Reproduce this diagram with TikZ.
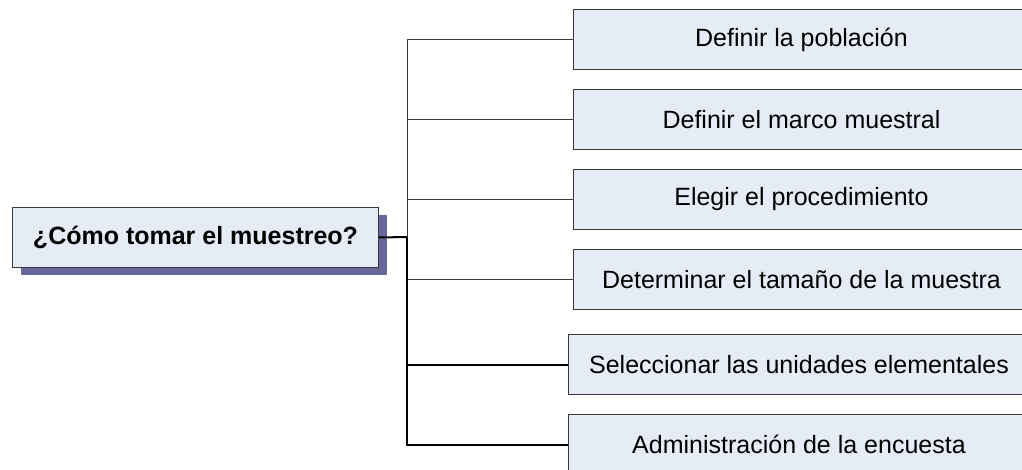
\documentclass[tikz,border=0pt]{standalone}
\usepackage{fontspec}
\setmainfont{Liberation Sans}
\definecolor{boxfill}{HTML}{E6ECF6}
\definecolor{boxline}{HTML}{3A3A3A}
\definecolor{shadowcol}{HTML}{676799}
\begin{document}
\begin{tikzpicture}[x=1pt,y=-1pt,
  stepbox/.style={draw=boxline,fill=boxfill,line width=1pt,minimum height=60pt,
    inner sep=0pt,font=\fontsize{25}{30}\selectfont},
  thin link/.style={draw=boxline,line width=1pt},
  thick link/.style={draw=black,line width=2pt}]
\useasboundingbox (0,0) rectangle (1022,470);
% main question with its drop shadow
\fill[shadowcol] (21,215) rectangle (387,275);
\node[stepbox,minimum width=366pt,anchor=north west,font=\bfseries\fontsize{25}{30}\selectfont]
  (q) at (12,207) {¿Cómo tomar el muestreo?};
% steps
\node[stepbox,minimum width=456pt,anchor=north west] (s1) at (573,9)   {Definir la población};
\node[stepbox,minimum width=456pt,anchor=north west] (s2) at (573,89)  {Definir el marco muestral};
\node[stepbox,minimum width=456pt,anchor=north west] (s3) at (573,169) {Elegir el procedimiento};
\node[stepbox,minimum width=456pt,anchor=north west] (s4) at (573,249) {Determinar el tamaño de la muestra};
\node[stepbox,minimum width=461pt,anchor=north west] (s5) at (568,334) {Seleccionar las unidades elementales};
\node[stepbox,minimum width=461pt,anchor=north west] (s6) at (568,414) {Administración de la encuesta};
% tree connectors
\coordinate (trunk) at (407,237);
\draw[thick link] (q.east) -- (trunk);
\draw[thin link] (trunk) |- (s1.west);
\draw[thin link] (trunk |- s2.west) -- (s2.west);
\draw[thin link] (trunk |- s3.west) -- (s3.west);
\draw[thin link] (trunk |- s4.west) -- (s4.west);
\draw[thick link] (trunk) |- (s6.west);
\draw[thick link] (trunk |- s5.west) -- (s5.west);
\end{tikzpicture}
\end{document}
